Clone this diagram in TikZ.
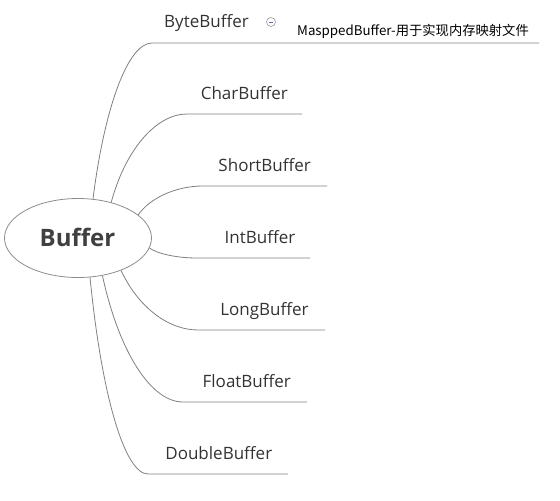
\documentclass[tikz,border=0pt]{standalone}
\usepackage{fontspec}
\setmainfont{Open Sans}
\newfontfamily\cjk{Noto Sans CJK SC}
\begin{document}
\begin{tikzpicture}[x=1pt,y=-1pt,
  branch/.style={draw=black!50,line width=0.8pt},
  lbl/.style={anchor=base,inner sep=0pt,text=black!80,font=\fontsize{17}{20}\selectfont},
  rootnode/.style={ellipse,draw=black!45,line width=0.8pt,minimum width=147pt,minimum height=79pt,inner sep=0pt}
]
\usetikzlibrary{shapes.geometric}
\useasboundingbox (0,0) rectangle (560,501);
\node[rootnode] (root) at (78,238) {};
\node[anchor=base,inner sep=0pt,text=black!75,font=\fontsize{24}{28}\selectfont\bfseries] (roottext) at (77.5,246.7) {Buffer};

% labels
\node[lbl] (byte) at (206.5,27.5) {ByteBuffer};
\node[lbl] (char) at (244.3,99.5) {CharBuffer};
\node[lbl] (short) at (264.7,171.5) {ShortBuffer};
\node[lbl] (int) at (260,243.5) {IntBuffer};
\node[lbl] (long) at (264.5,315.5) {LongBuffer};
\node[lbl] (float) at (246.8,387.5) {FloatBuffer};
\node[lbl] (double) at (218.8,459.5) {DoubleBuffer};
\node[anchor=base west,inner sep=0pt,text=black,font=\cjk\fontsize{13.3}{16}\selectfont] (mapped) at (297,35) {MasppedBuffer-用于实现内存映射文件};

% collapse icon
\node[circle,draw=black!40,line width=0.6pt,minimum size=9pt,inner sep=0pt] (icon) at (271,22) {};
\draw[black!55!blue!60,line width=0.7pt] ([xshift=-2.3pt]icon.center) -- ([xshift=2.3pt]icon.center);

% line end coordinates
\coordinate (be) at (152,43);  \coordinate (bf) at (539,43);
\coordinate (ce) at (187,114); \coordinate (cf) at (302,114);
\coordinate (se) at (203,186); \coordinate (sf) at (327,186);
\coordinate (ie) at (197,258); \coordinate (if) at (310,258);
\coordinate (le) at (198,330); \coordinate (lf) at (325,330);
\coordinate (fe) at (183,402); \coordinate (ff) at (307,402);
\coordinate (de) at (148,474); \coordinate (df) at (288,474);

\draw[branch] (root.69) .. controls (104.8,105.4) and (128.4,43) .. (be) -- (bf);
\draw[branch] (root.47.6) .. controls (125.4,149.6) and (156.2,114) .. (ce) -- (cf);
\draw[branch] (root.21.3) .. controls (150.2,197.6) and (176.6,186) .. (se) -- (sf);
\draw[branch] (root.-8.1) .. controls (157.8,254) and (177.4,258) .. (ie) -- (if);
\draw[branch] (root.-37) .. controls (138,306.8) and (168,330) .. (le) -- (lf);
\draw[branch] (root.-57) .. controls (119,352) and (151,402) .. (fe) -- (ff);
\draw[branch] (root.-73) .. controls (101.6,395.6) and (124.8,474) .. (de) -- (df);
\end{tikzpicture}
\end{document}
